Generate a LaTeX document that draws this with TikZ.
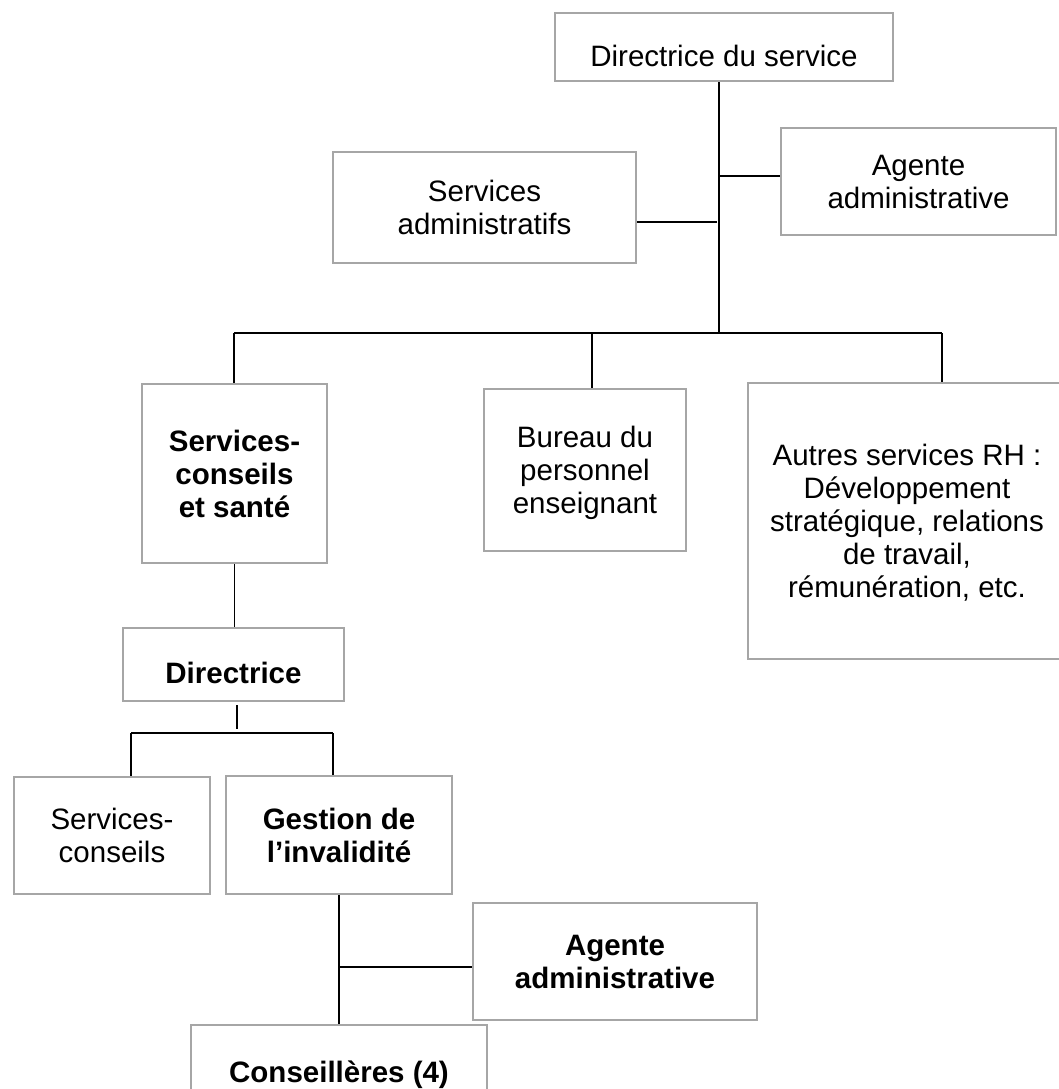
\documentclass[tikz,border=0pt]{standalone}
\usepackage{fontspec}
\setmainfont{Liberation Sans}
\definecolor{boxgray}{HTML}{A6A6A6}
\begin{document}
\begin{tikzpicture}[x=1pt,y=-1pt,
  box/.style={draw=boxgray, line width=2.2pt, fill=white, inner sep=0pt,
    align=center, text=black, text depth=0pt, font=\fontsize{29.5}{33}\selectfont},
  bbox/.style={box, font=\fontsize{29.5}{33}\selectfont\bfseries},
  conn/.style={draw=black, line width=1.2pt}]
\useasboundingbox (0,0) rectangle (1058,1089);

% top level
\node[box, minimum width=338pt, minimum height=68pt, text height=40pt] (dir) at (724,47) {Directrice du service};
\node[box, minimum width=303pt, minimum height=111pt] (sadm) at (484.5,207.5) {Services\\administratifs};
\node[box, minimum width=275pt, minimum height=107pt] (agt1) at (918.5,181.5) {Agente\\administrative};

% second level
\node[bbox, minimum width=185pt, minimum height=179pt] (scs) at (234.5,473.5) {Services-\\conseils\\et santé};
\node[box, minimum width=202pt, minimum height=162pt] (bur) at (585,470) {Bureau du\\personnel\\enseignant};
\node[box, minimum width=318pt, minimum height=276pt] (autres) at (907,521) {Autres services RH~:\\Développement\\stratégique, relations\\de travail,\\rémunération, etc.};

% third level
\node[bbox, minimum width=221pt, minimum height=73pt, text height=37pt] (dir2) at (233.5,664.5) {Directrice};
\node[box, minimum width=196pt, minimum height=117pt] (sc) at (112,835.5) {Services-\\conseils};
\node[bbox, minimum width=226pt, minimum height=118pt] (gest) at (339,835) {Gestion de\\l’invalidité};
\node[bbox, minimum width=284pt, minimum height=117pt] (agt2) at (615,961.5) {Agente\\administrative};
\node[bbox, minimum width=296pt, minimum height=86pt, text height=28pt] (cons) at (339,1068) {Conseillères (4)};

% connector points
\coordinate (trunk) at (719,333);
\coordinate (j1) at (719,176);
\coordinate (j2) at (717,222);
\coordinate (busL) at (234,333);
\coordinate (busM) at (592,333);
\coordinate (busR) at (942,333);
\coordinate (d2a) at (237,705);
\coordinate (d2b) at (237,729);
\coordinate (b2L) at (131,733);
\coordinate (b2R) at (333,733);
\coordinate (j3) at (339,967);

% connectors
\draw[conn] (trunk |- dir.south) -- (trunk);
\draw[conn] (j1) -- (j1 -| agt1.west);
\draw[conn] (j2) -- (j2 -| sadm.east);
\draw[conn] (busL) -- (busR);
\draw[conn] (busL) -- (busL |- scs.north);
\draw[conn] (busM) -- (busM |- bur.north);
\draw[conn] (busR) -- (busR |- autres.north);
\draw[conn] (scs.south) -- (scs.south |- dir2.north);
\draw[conn] (d2a) -- (d2b);
\draw[conn] (b2L) -- (b2R);
\draw[conn] (b2L) -- (b2L |- sc.north);
\draw[conn] (b2R) -- (b2R |- gest.north);
\draw[conn] (gest.south) -- (gest.south |- cons.north);
\draw[conn] (j3) -- (j3 -| agt2.west);
\end{tikzpicture}
\end{document}
